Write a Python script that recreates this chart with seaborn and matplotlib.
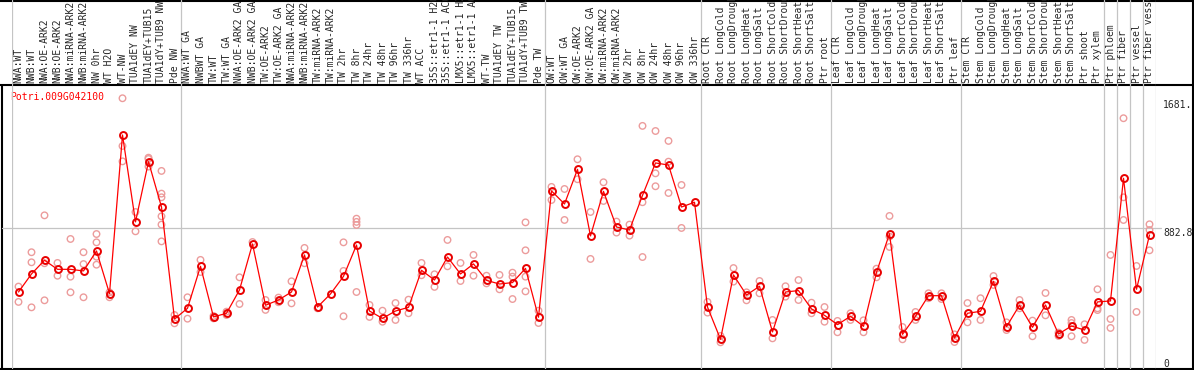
import numpy as np
import pandas as pd
import matplotlib
matplotlib.use('Agg')
import matplotlib.pyplot as plt
import seaborn as sns

# Sample names (header row), grouped by experiment
samples = [
    'NWA:WT', 'NWB:WT', 'NWA:OE-ARK2', 'NWB:OE-ARK2', 'NWA:miRNA-ARK2', 'NWB:miRNA-ARK2',
    'NW 0hr', 'WT H2O', 'WT-NW', 'TUA1dEY NW', 'TUA1dEY+TUB15', 'TUA1dY+TUB9 NW', 'Pde NW',
    'NWA:WT GA', 'NWBWT GA', 'TW:WT', 'TW:WT GA', 'NWA:OE-ARK2 GA', 'NWB:OE-ARK2 GA',
    'TW:OE-ARK2', 'TW:OE-ARK2 GA', 'NWA:miRNA-ARK2', 'NWB:miRNA-ARK2', 'TW:miRNA-ARK2',
    'TW:miRNA-ARK2', 'TW 2hr', 'TW 8hr', 'TW 24hr', 'TW 48hr', 'TW 96hr', 'TW 336hr', 'WT ACC',
    '35S::etr1-1 H2O', '35S::etr1-1 ACC', 'LMX5::etr1-1 H2O', 'LMX5::etr1-1 ACC', 'WT-TW',
    'TUA1dEY TW', 'TUA1dEY+TUB15', 'TUA1dY+TUB9 TW', 'Pde TW',
    'OW:WT', 'OW:WT GA', 'OW:OE-ARK2', 'OW:OE-ARK2 GA', 'OW:miRNA-ARK2', 'OW:miRNA-ARK2',
    'OW 2hr', 'OW 8hr', 'OW 24hr', 'OW 48hr', 'OW 96hr', 'OW 336hr',
    'Root CTR', 'Root LongCold', 'Root LongDrought', 'Root LongHeat', 'Root LongSalt',
    'Root ShortCold', 'Root ShortDrought', 'Root ShortHeat', 'Root ShortSalt', 'Ptr root',
    'Leaf CTR', 'Leaf LongCold', 'Leaf LongDrought', 'Leaf LongHeat', 'Leaf LongSalt',
    'Leaf ShortCold', 'Leaf ShortDrought', 'Leaf ShortHeat', 'Leaf ShortSalt', 'Ptr leaf',
    'Stem CTR', 'Stem LongCold', 'Stem LongDrought', 'Stem LongHeat', 'Stem LongSalt',
    'Stem ShortCold', 'Stem ShortDrought', 'Stem ShortHeat', 'Stem ShortSalt', 'Ptr shoot',
    'Ptr xylem', 'Ptr phloem', 'Ptr fiber', 'Ptr vessel', 'Ptr fiber vessel',
]
group_sizes = [13, 28, 12, 10, 10, 11, 1, 1, 1, 1]

# Mean expression per sample
means = [
    482, 595, 681, 624, 624, 614, 739, 472, 1465, 921, 1298, 1014, 313,
    380, 643, 326, 349, 495, 783, 399, 432, 482, 714, 388, 470, 580, 776, 363, 317, 363,
    386, 618, 557, 701, 595, 658, 555, 532, 541, 630, 324,
    1115, 1033, 1250, 833, 1112, 889, 870, 1087, 1290, 1277, 1014, 1044,
    388, 186, 589, 463, 518, 232, 482, 491, 376, 336,
    278, 330, 267, 605, 847, 217, 330, 459, 459, 194,
    349, 361, 549, 265, 399, 261, 401, 219, 269, 244, 420,
    426, 1194, 499, 839,
]

# Individual replicates per sample
replicates = [
    [516, 420], [731, 668, 386], [962, 662, 430], [664, 584], [814, 578, 480],
    [731, 657, 449], [845, 793, 703, 653], [480, 449], [1695, 1396, 1300], [983, 862],
    [1323, 1315, 1267], [1240, 1098, 1075, 956, 904, 799], [338, 286],
    [449, 315], [683, 607], [332, 317], [359, 338], [574, 407], [795], [432, 370],
    [447, 418], [549, 411], [758, 662], [380], [], [793, 614, 330], [941, 921, 902, 482],
    [401, 326], [365, 296], [413, 307], [434, 349], [664, 587], [593, 514], [808, 643],
    [664, 551], [714, 584], [584, 536], [589, 499], [603, 578, 438], [918, 743, 578, 486],
    [365, 288],
    [1140, 1058], [1127, 933], [1313, 1188], [983, 689], [1169, 1052], [923, 854],
    [904, 835], [1522, 1044, 701], [1490, 1225, 1144], [1428, 1298, 1102], [1152, 883], [],
    [420, 353], [207, 167], [632, 547], [480, 430], [551, 474], [307, 192], [518, 453],
    [557, 432], [415, 349], [388, 296],
    [301, 230], [349, 307], [305, 230], [628, 574], [958, 829, 764], [263, 186], [357, 307],
    [474, 443], [474, 438], [217, 169],
    [413, 292], [443, 307], [582, 526], [292, 244], [432, 380], [303, 205], [476, 336],
    [228, 207], [307, 288, 205], [280, 182], [499, 380, 369],
    [714, 313, 257], [1570, 1075, 933], [645, 357], [906, 870, 743],
]

gene = 'Potri.009G042100'
y_labels = ['1681.', '882.8', '0']
y_label_values = [1681, 882.8, 0]

mean_df = pd.DataFrame({'pos': np.arange(len(samples)), 'value': means})
rep_df = pd.DataFrame([(i, v) for i, vals in enumerate(replicates) for v in vals],
                      columns=['pos', 'value'])

sns.set_style('white')
plt.rcParams['font.family'] = ['DejaVu Sans Mono']

W, H = 1194, 370
fig = plt.figure(figsize=(W / 100, H / 100), dpi=100)


def px_box(x0, y0, x1, y1):
    return [x0 / W, 1 - y1 / H, (x1 - x0) / W, (y1 - y0) / H]


bg = fig.add_axes([0, 0, 1, 1])
bg.set_xlim(0, W)
bg.set_ylim(H, 0)
bg.axis('off')

ax = fig.add_axes(px_box(12, 85, 1156, 369))
hx = fig.add_axes(px_box(12, 0, 1156, 85), sharex=ax)
n = len(samples)
ax.set_xlim(-0.5, n - 0.5)
ax.set_ylim(0, 1778)

gray = '#c4c4c4'
pink = '#ec9c9c'

# group separators through header and plot
edges = np.concatenate([[0], np.cumsum(group_sizes)]) - 0.5
for e in edges:
    ax.axvline(e, color=gray, lw=0.9, zorder=0)
    hx.axvline(e, color=gray, lw=0.9, zorder=0)
ax.axhline(882.8, xmin=-0.009, xmax=1.0044, clip_on=False, color=gray, lw=0.9, zorder=0)

sns.scatterplot(data=rep_df, x='pos', y='value', ax=ax, marker='o', s=22,
                color=pink, facecolor='none', edgecolor=pink, linewidth=1.0,
                zorder=2, legend=False)
sns.lineplot(data=mean_df, x='pos', y='value', ax=ax, estimator=None, errorbar=None,
             color='red', linewidth=0.9, marker='o', markersize=5,
             markerfacecolor='none', markeredgecolor='#e80000', markeredgewidth=1.4,
             zorder=3, legend=False)
ax.axis('off')

# header labels
for i, s in enumerate(samples):
    hx.text(i, 2 / 85, s, transform=hx.get_xaxis_transform(), rotation=90,
            ha='center', va='bottom', fontsize=7, clip_on=True)
hx.axis('off')

# right-hand value labels
tr = matplotlib.transforms.blended_transform_factory(ax.transAxes, ax.transData)
for lab, v in zip(y_labels, y_label_values):
    ax.text(1 + 7 / 1144, v, lab, transform=tr, ha='left',
            va='bottom' if v == 0 else 'top', fontsize=7, clip_on=False)

bg.text(10, 97, gene, color='red', fontsize=7, ha='left', va='center')

# frame
k = dict(color='black', lw=1.5, solid_capstyle='butt')
bg.plot([0, W], [85, 85], **k)
bg.plot([0, W], [0.6, 0.6], **k)
bg.plot([1.5, 1.5], [85, 369.5], **k)
bg.plot([1192.5, 1192.5], [0, 369.5], **k)
bg.plot([0, W], [369, 369], **k)

fig.savefig('out.png', dpi=100)
